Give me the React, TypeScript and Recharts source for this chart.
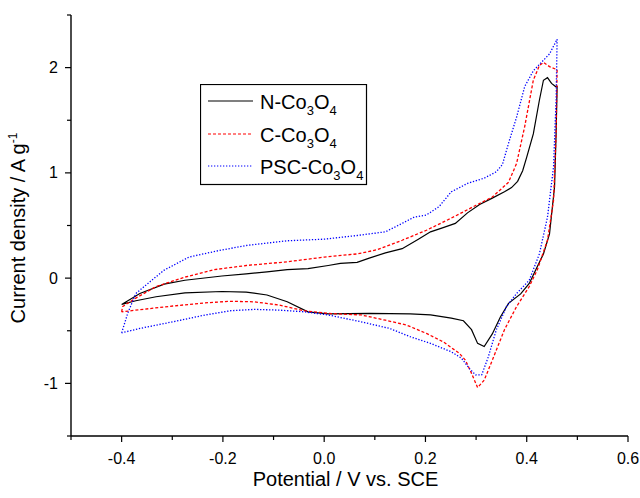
import React from 'react';
import { LineChart, Line, XAxis, YAxis, Legend } from 'recharts';

// Potential (V vs. SCE), current density (A/g) pairs, traced in scan order
const nCo3O4: [number, number][] = [
  [-0.4, -0.25], [-0.364, -0.146], [-0.316, -0.057], [-0.275, -0.02], [-0.202, 0.02],
  [-0.154, 0.04], [-0.113, 0.06], [-0.073, 0.08], [-0.032, 0.09], [0.008, 0.12],
  [0.032, 0.14], [0.065, 0.15], [0.089, 0.19], [0.121, 0.24], [0.154, 0.28],
  [0.186, 0.37], [0.21, 0.44], [0.235, 0.48], [0.259, 0.52], [0.283, 0.62],
  [0.307, 0.7], [0.332, 0.76], [0.356, 0.82], [0.37, 0.86], [0.382, 0.92], [0.392, 1.02],
  [0.4, 1.15], [0.413, 1.37], [0.425, 1.69], [0.433, 1.88], [0.441, 1.905], [0.449, 1.85],
  [0.457, 1.82], [0.46, 1.82], [0.458, 1.37], [0.455, 0.87], [0.445, 0.42],
  [0.433, 0.23], [0.421, 0.11], [0.405, -0.05], [0.388, -0.15], [0.364, -0.24],
  [0.348, -0.37], [0.332, -0.53], [0.316, -0.65], [0.303, -0.62], [0.291, -0.49],
  [0.275, -0.405], [0.251, -0.38], [0.21, -0.35], [0.17, -0.34], [0.089, -0.335],
  [0.008, -0.34], [-0.032, -0.32], [-0.073, -0.225], [-0.113, -0.16], [-0.154, -0.133],
  [-0.202, -0.127], [-0.275, -0.14], [-0.332, -0.177], [-0.372, -0.215], [-0.4, -0.25],
];

const cCo3O4: [number, number][] = [
  [-0.4, -0.32], [-0.398, -0.27], [-0.372, -0.19], [-0.332, -0.08], [-0.275, 0.01],
  [-0.218, 0.08], [-0.154, 0.12], [-0.073, 0.155], [0.0, 0.2], [0.065, 0.23],
  [0.105, 0.27], [0.154, 0.36], [0.202, 0.455], [0.251, 0.57], [0.299, 0.69],
  [0.332, 0.77], [0.364, 0.91], [0.38, 1.09], [0.396, 1.44], [0.413, 1.88],
  [0.425, 2.02], [0.433, 2.05], [0.445, 2.01], [0.46, 1.98], [0.458, 1.37],
  [0.453, 0.74], [0.441, 0.36], [0.421, 0.08], [0.405, -0.08], [0.38, -0.27],
  [0.356, -0.49], [0.332, -0.78], [0.316, -0.97], [0.303, -1.04], [0.291, -0.905],
  [0.279, -0.78], [0.267, -0.715], [0.235, -0.605], [0.202, -0.525], [0.162, -0.445],
  [0.121, -0.4], [0.073, -0.35], [0.008, -0.335], [-0.04, -0.31], [-0.089, -0.256],
  [-0.138, -0.225], [-0.186, -0.22], [-0.235, -0.235], [-0.299, -0.265], [-0.364, -0.3],
  [-0.4, -0.32],
];

const pscCo3O4: [number, number][] = [
  [-0.4, -0.52], [-0.388, -0.335], [-0.372, -0.146], [-0.348, -0.05], [-0.316, 0.076],
  [-0.267, 0.2], [-0.21, 0.26], [-0.154, 0.31], [-0.073, 0.355], [0.0, 0.37],
  [0.065, 0.405], [0.121, 0.44], [0.154, 0.52], [0.178, 0.58], [0.202, 0.6],
  [0.227, 0.68], [0.251, 0.82], [0.283, 0.9], [0.316, 0.95], [0.34, 1.01], [0.352, 1.08],
  [0.364, 1.28], [0.38, 1.53], [0.396, 1.82], [0.413, 1.97], [0.429, 2.05],
  [0.445, 2.13], [0.46, 2.27], [0.458, 1.69], [0.453, 1.06], [0.441, 0.58],
  [0.425, 0.23], [0.405, -0.02], [0.38, -0.146], [0.36, -0.27], [0.34, -0.49],
  [0.324, -0.75], [0.311, -0.92], [0.299, -0.92], [0.287, -0.86], [0.271, -0.76],
  [0.251, -0.7], [0.21, -0.62], [0.17, -0.557], [0.129, -0.478], [0.073, -0.415],
  [0.008, -0.35], [-0.04, -0.32], [-0.089, -0.304], [-0.138, -0.297], [-0.186, -0.31],
  [-0.235, -0.35], [-0.299, -0.415], [-0.364, -0.478], [-0.4, -0.52],
];

const seriesNames = ['N-Co3O4', 'C-Co3O4', 'PSC-Co3O4'];
const xTicks = [-0.5, -0.4, -0.3, -0.2, -0.1, 0, 0.1, 0.2, 0.3, 0.4, 0.5, 0.6];
const yTicks = [-1.5, -1, -0.5, 0, 0.5, 1, 1.5, 2, 2.5];

const toRows = (pts: [number, number][]) => pts.map(([x, y]) => ({ x, y }));

const FONT = '"Liberation Sans", Arial, Helvetica, sans-serif';

const XTick = (props: any) => {
  const { x, y, payload } = props;
  const v = payload.value as number;
  const major = Math.round(v * 10) % 2 === 0;
  return (
    <g>
      <line x1={x} y1={y} x2={x} y2={y + (major ? 6 : 4)} stroke="#000" strokeWidth={1.2} />
      {major && (
        <text x={x} y={y + 28} textAnchor="middle" fontSize={16} fontFamily={FONT} fill="#000">
          {v.toFixed(1)}
        </text>
      )}
    </g>
  );
};

const YTick = (props: any) => {
  const { x, y, payload } = props;
  const v = payload.value as number;
  const major = Number.isInteger(v);
  return (
    <g>
      <line x1={x - (major ? 6 : 4)} y1={y} x2={x} y2={y} stroke="#000" strokeWidth={1.2} />
      {major && (
        <text x={x - 13} y={y + 5.5} textAnchor="end" fontSize={16} fontFamily={FONT} fill="#000">
          {String(v)}
        </text>
      )}
    </g>
  );
};

const renderName = (name: string) => {
  const parts = name.split(/(\d)/).filter((p) => p !== '');
  let down = false;
  return parts.map((p, i) => {
    const isDigit = /\d/.test(p);
    let dy = 0;
    if (isDigit && !down) { dy = 6; down = true; }
    else if (!isDigit && down) { dy = -6; down = false; }
    return (
      <tspan key={i} dy={dy} fontSize={isDigit ? 13 : 20}>{p}</tspan>
    );
  });
};

const LegendBox = (props: any) => {
  const payload = ([...(props.payload || [])] as any[]).sort(
    (a, b) => seriesNames.indexOf(String(a.value)) - seriesNames.indexOf(String(b.value)),
  );
  const rowsY = [17, 50, 82];
  return (
    <svg width={168} height={102} style={{ display: 'block' }}>
      <rect x={0.5} y={0.5} width={166} height={100} fill="#fff" stroke="#000" strokeWidth={1.2} />
      {payload.map((p, i) => (
        <g key={i}>
          <line
            x1={8}
            x2={53}
            y1={rowsY[i]}
            y2={rowsY[i]}
            stroke={p.color}
            strokeWidth={1.2}
            strokeDasharray={p.payload?.strokeDasharray}
          />
          <text x={60} y={rowsY[i] + 7.5} fontFamily={FONT} fill="#000" fontSize={20}>
            {renderName(String(p.value))}
          </text>
        </g>
      ))}
    </svg>
  );
};

const XTitle = (props: any) => {
  const vb = props.viewBox || {};
  return (
    <text x={vb.x + vb.width / 2 - 4} y={vb.y + 50} textAnchor="middle" fontSize={20} fontFamily={FONT} fill="#000">
      Potential / V vs. SCE
    </text>
  );
};

const YTitle = () => {
  const cx = 25;
  const cy = 228;
  return (
    <text x={cx} y={cy} transform={`rotate(-90 ${cx} ${cy})`} textAnchor="middle" fontSize={20} fontFamily={FONT} fill="#000">
      Current density / A g<tspan dy={-8} fontSize={12}>-1</tspan>
    </text>
  );
};

export default function App() {
  return (
    <div style={{ position: 'absolute', left: 0, top: 0, width: 640, height: 498, background: '#fff' }}>
      <LineChart width={640} height={498} margin={{ top: 15, right: 12, bottom: 0, left: 0 }}>
        <XAxis
          type="number"
          dataKey="x"
          domain={[-0.5, 0.6]}
          ticks={xTicks}
          interval={0}
          allowDataOverflow
          height={62}
          tickSize={0}
          tickMargin={0}
          tickLine={false}
          tick={<XTick />}
          axisLine={{ stroke: '#000', strokeWidth: 1.4 }}
          label={<XTitle />}
        />
        <XAxis
          xAxisId="top"
          orientation="top"
          type="number"
          domain={[-0.5, 0.6]}
          height={0}
          tick={false}
          tickLine={false}
          axisLine={{ stroke: '#000', strokeWidth: 1.4 }}
        />
        <YAxis
          type="number"
          dataKey="y"
          domain={[-1.5, 2.5]}
          ticks={yTicks}
          interval={0}
          allowDataOverflow
          width={71}
          tickSize={0}
          tickMargin={0}
          tickLine={false}
          tick={<YTick />}
          axisLine={{ stroke: '#000', strokeWidth: 1.4 }}
          label={<YTitle />}
        />
        <YAxis
          yAxisId="right"
          orientation="right"
          type="number"
          domain={[-1.5, 2.5]}
          width={0}
          tick={false}
          tickLine={false}
          axisLine={{ stroke: '#000', strokeWidth: 1.4 }}
        />
        <Legend
          layout="horizontal"
          verticalAlign="middle"
          align="center"
          content={<LegendBox />}
          wrapperStyle={{ position: 'absolute', left: 200, top: 84, width: 168, height: 102 }}
        />
        <Line
          data={toRows(nCo3O4)}
          dataKey="y"
          name={seriesNames[0]}
          type="linear"
          stroke="#000000"
          strokeWidth={1.2}
          dot={false}
          activeDot={false}
          isAnimationActive={false}
        />
        <Line
          data={toRows(cCo3O4)}
          dataKey="y"
          name={seriesNames[1]}
          type="linear"
          stroke="#ff0000"
          strokeWidth={1.3}
          strokeDasharray="3 2"
          dot={false}
          activeDot={false}
          isAnimationActive={false}
        />
        <Line
          data={toRows(pscCo3O4)}
          dataKey="y"
          name={seriesNames[2]}
          type="linear"
          stroke="#0000ff"
          strokeWidth={1.3}
          strokeDasharray="1.3 1.7"
          dot={false}
          activeDot={false}
          isAnimationActive={false}
        />
      </LineChart>
    </div>
  );
}
